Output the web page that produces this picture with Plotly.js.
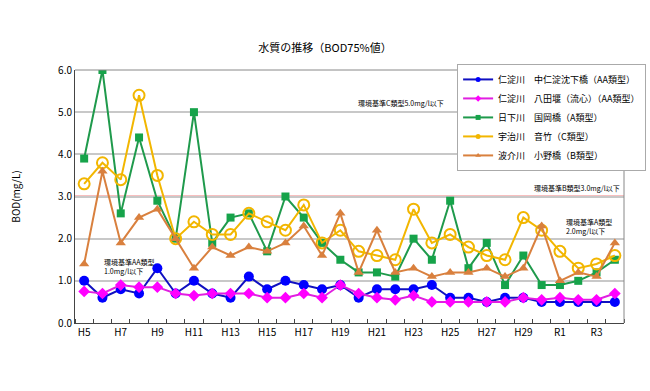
<!DOCTYPE html>
<html><head><meta charset="utf-8">
<script src="https://cdn.plot.ly/plotly-3.0.1.min.js"></script>
<style>body{margin:0;background:#fff}#c{width:650px;height:391px}</style>
</head><body><div id="c"></div>
<script>
const years = ["H5","H6","H7","H8","H9","H10","H11","H12","H13","H14","H15","H16","H17","H18","H19","H20","H21","H22","H23","H24","H25","H26","H27","H28","H29","H30","R1","R2","R3","R4"];
const seriesNames = ["仁淀川　中仁淀沈下橋（AA類型）","仁淀川　八田堰（流心）（AA類型）","日下川　国岡橋（A類型）","宇治川　音竹（C類型）","波介川　小野橋（B類型）"];
const niyodoChunin = [1.0,0.6,0.8,0.7,1.3,0.7,1.0,0.7,0.6,1.1,0.8,1.0,0.9,0.8,0.9,0.6,0.8,0.8,0.8,0.9,0.6,0.6,0.5,0.6,0.6,0.5,0.5,0.5,0.5,0.5];
const niyodoHatta = [0.75,0.7,0.9,0.85,0.85,0.7,0.65,0.7,0.7,0.7,0.6,0.6,0.7,0.6,0.9,0.7,0.6,0.55,0.65,0.5,0.5,0.5,0.5,0.5,0.6,0.55,0.6,0.55,0.55,0.7];
const kusakaKunioka = [3.9,6.0,2.6,4.4,2.9,2.0,5.0,1.9,2.5,2.6,1.7,3.0,2.5,1.9,1.5,1.2,1.2,1.1,2.0,1.5,2.9,1.3,1.9,0.9,1.6,0.9,0.9,1.0,1.2,1.5];
const ujiOtake = [3.3,3.8,3.4,5.4,3.5,2.0,2.4,2.1,2.1,2.6,2.4,2.2,2.8,1.9,2.2,1.7,1.6,1.5,2.7,1.9,2.1,1.8,1.6,1.5,2.5,2.2,1.7,1.3,1.4,1.6];
const hageOno = [1.4,3.6,1.9,2.5,2.7,2.0,1.3,1.8,1.6,1.8,1.7,1.9,2.3,1.6,2.6,1.2,2.2,1.2,1.3,1.1,1.2,1.2,1.3,1.1,1.3,2.3,1.0,1.2,1.1,1.9];
const standards = [1.0,2.0,3.0,5.0];
const standardLabels = ["環境基準AA類型<br>1.0mg/l以下","環境基準A類型<br>2.0mg/l以下","環境基準B類型3.0mg/l以下","環境基準C類型5.0mg/l以下"];
const tickLabels = ["H5","H7","H9","H11","H13","H15","H17","H19","H21","H23","H25","H27","H29","R1","R3"];

const idx = years.map((y,i)=>i);
const tickIdx = tickLabels.map(t=>years.indexOf(t));
const FONT = "Noto Sans CJK JP, sans-serif";

const styles = [
  {color:"#1010c0", mcolor:"#0000ff", symbol:"circle", size:10},
  {color:"#e020e0", mcolor:"#ff00ff", symbol:"diamond", size:9},
  {color:"#1f9a4c", mcolor:"#16a34a", symbol:"square", size:8},
  {color:"#f2b600", mcolor:"#f2b600", symbol:"circle-open", size:11},
  {color:"#d9803e", mcolor:"#d9803e", symbol:"triangle-up", size:9}
];
const data = [niyodoChunin, niyodoHatta, kusakaKunioka, ujiOtake, hageOno];
const traces = data.map((d,k)=>({
  x: idx, y: d, name: seriesNames[k], type:"scatter", mode:"lines+markers", showlegend:false,
  line:{color:styles[k].color, width:2},
  marker:{symbol:styles[k].symbol, size:styles[k].size, color: styles[k].mcolor,
    line: k===3 ? {color:"#f2b600", width:2} : {width:0}}
}));
// legend entries with small markers, as in the reference legend
const legendTraces = seriesNames.map((n,k)=>({
  x:[null], y:[null], name:n, type:"scatter", mode:"lines+markers",
  line:{color:styles[k].color, width:2},
  marker:{symbol: k===3 ? "circle" : styles[k].symbol, size:5, color:styles[k].mcolor, line:{width:0}}
}));

const shapes = standards.map(v=>({type:"line", xref:"paper", x0:0, x1:1, yref:"y", y0:v, y1:v, line:{color:"#e00000", width:1.5}, layer:"below"}));

const annotations = [
  {x:1, y:standards[0], xref:"x", yref:"y", text:standardLabels[0], showarrow:false, xanchor:"left", yanchor:"bottom", align:"left", yshift:3},
  {x:26.2, y:standards[1], xref:"x", yref:"y", text:standardLabels[1], showarrow:false, xanchor:"left", yanchor:"bottom", align:"left", yshift:1},
  {x:29.4, y:standards[2], xref:"x", yref:"y", text:standardLabels[2], showarrow:false, xanchor:"right", yanchor:"bottom", align:"left", yshift:2},
  {x:19.8, y:standards[3], xref:"x", yref:"y", text:standardLabels[3], showarrow:false, xanchor:"right", yanchor:"bottom", align:"left", yshift:2}
].map(a=>Object.assign(a,{font:{family:FONT,size:7,color:"#000"}}));
annotations.push({xref:"paper", yref:"paper", x:-0.109, y:0.5, text:"BOD(mg/L)", textangle:-90, showarrow:false,
  xanchor:"center", yanchor:"middle", font:{family:FONT,size:10,color:"#000"}});

const layout = {
  width:650, height:391,
  margin:{l:75, r:26, t:70, b:68, autoexpand:false},
  paper_bgcolor:"#fff", plot_bgcolor:"#fff",
  font:{family:FONT, size:10, color:"#000"},
  title:{text:"水質の推移（BOD75%値）", x:0.5, xanchor:"center", y:0.877, yanchor:"middle", font:{family:FONT,size:11,color:"#000"}},
  xaxis:{type:"linear", range:[-0.5,29.5], tickmode:"array", tickvals:tickIdx, ticktext:tickLabels, ticks:"",
    showgrid:false, zeroline:false, showline:true, linecolor:"#444", linewidth:1, mirror:false,
    minor:{tickmode:"linear", tick0:0.5, dtick:1, ticks:"inside", ticklen:4, tickcolor:"#444", showgrid:false},
    tickfont:{family:FONT,size:10}},
  yaxis:{range:[0,6], dtick:1, tickformat:".1f", ticks:"", showgrid:true, gridcolor:"#c8c8c8", gridwidth:2,
    zeroline:false, showline:true, linecolor:"#444", linewidth:1, tickfont:{family:FONT,size:10}},
  shapes: shapes.concat([
    {type:"line", xref:"paper", yref:"paper", x0:0, x1:1, y0:1, y1:1, line:{color:"#888", width:1}},
    {type:"line", xref:"paper", yref:"paper", x0:1, x1:1, y0:0, y1:1, line:{color:"#888", width:1}}
  ]),
  annotations: annotations,
  showlegend:true,
  legend:{x:0.696, y:1.024, xanchor:"left", yanchor:"top", bgcolor:"#fff", bordercolor:"#aaa", borderwidth:1,
    font:{family:FONT,size:9}, tracegroupgap:0, itemwidth:30}
};

Plotly.newPlot("c", traces.concat(legendTraces), layout, {displayModeBar:false, staticPlot:true});
</script></body></html>
